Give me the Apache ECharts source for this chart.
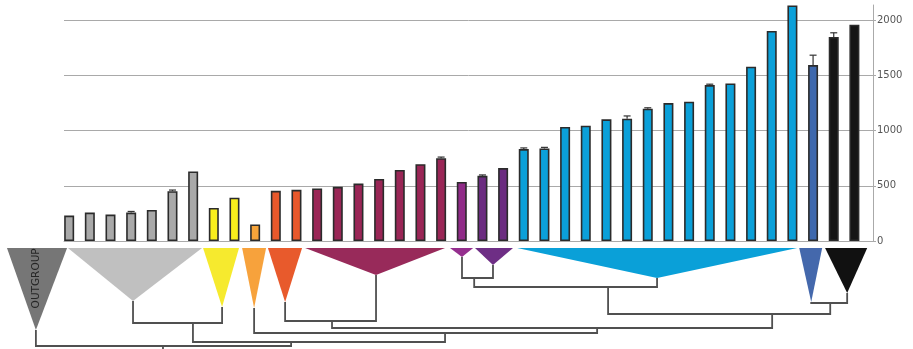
<!DOCTYPE html>
<html>
<head>
<meta charset="utf-8">
<script src="https://cdn.jsdelivr.net/npm/echarts@6/dist/echarts.min.js"></script>
<style>
  html, body { margin: 0; padding: 0; background: #ffffff; }
  #chart { width: 913px; height: 349px; }
</style>
</head>
<body>
<div id="chart"></div>
<script>
// Bar heights, one array per clade, in left-to-right order
const grayValues    = [231, 258, 240, 258, 282, 452, 630];
const yellowValues  = [300, 392];
const orangeValues  = [150];
const redValues     = [455, 464];
const maroonValues  = [476, 491, 521, 563, 644, 697, 751];
const magentaValues = [536];
const purpleValues  = [591, 661];
const blueValues    = [834, 839, 1034, 1045, 1103, 1109, 1200, 1251, 1263, 1414, 1429, 1580, 1905, 2136];
const steelValues   = [1595];
const blackValues   = [1850, 1962];

// Upper error for each bar (0 = no whisker)
const errorValues = [0, 0, 0, 10, 0, 10, 0, 0, 0, 0, 0, 0, 0, 0, 0, 0, 0, 0, 10,
                     0, 8, 0, 10, 10, 0, 0, 0, 25, 8, 0, 0, 8, 0, 0, 0, 0, 90, 38, 0];

// Right-hand axis ticks
const yTicks = [0, 500, 1000, 1500, 2000];

// Clades of the cladogram (outgroup first); bar groups follow the same order after it
const cladeKeys   = ['out', 'gray', 'yellow', 'orange', 'red', 'maroon', 'magenta', 'purple', 'blue', 'steel', 'black'];
const cladeLabels = ['OUTGROUP', '', '', '', '', '', '', '', '', '', ''];
const cladeLeft   = [-3.01, -0.06, 6.48, 8.37, 9.62, 11.42, 18.43, 19.64, 21.68, 35.33, 36.58];
const cladeRight  = [-0.10, 6.43, 8.22, 9.53, 11.27, 18.19, 19.55, 21.48, 35.23, 36.44, 38.62];
const cladeApexX  = [-1.61, 3.09, 7.40, 8.95, 10.45, 14.85, 19.01, 20.51, 28.45, 35.91, 37.65];
const cladeDepth  = [82, 53, 59, 60, 54, 27, 9, 17, 30, 54, 45];

// Internal nodes: attachment position, depth of the joining bar, and the two children
const nodeKeys     = ['gy', 'rm', 'pp', 'ppb', 'sb', 'ppbsb', 'n3', 'n4', 'n5', 'root'];
const nodeX        = [5.99, 12.72, 19.60, 26.08, 36.83, 34.02, 25.55, 18.19, 10.74, 4.54];
const nodeDepth    = [75, 73, 30, 39, 55, 66, 80, 85, 94, 98];
const nodeChildren = [['gray', 'yellow'], ['red', 'maroon'], ['magenta', 'purple'], ['pp', 'blue'],
                      ['steel', 'black'], ['ppb', 'sb'], ['rm', 'ppbsb'], ['orange', 'n3'],
                      ['gy', 'n4'], ['out', 'n5']];

// Colours
const barColors = {
  gray: '#a9a9a9', yellow: '#f9ee1c', orange: '#f6a43a', red: '#e8582b', maroon: '#9a2656',
  magenta: '#902b88', purple: '#6b2c80', blue: '#0ba0d9', steel: '#3e68ad', black: '#151515'
};
const triColors = {
  out: '#767676', gray: '#c0c0c0', yellow: '#f6ea2e', orange: '#f7a23c', red: '#e85a2c',
  maroon: '#982a5a', magenta: '#952f8e', purple: '#6e2e85', blue: '#0aa0d8', steel: '#4468ac', black: '#111111'
};

const groups = [
  ['gray', grayValues], ['yellow', yellowValues], ['orange', orangeValues], ['red', redValues],
  ['maroon', maroonValues], ['magenta', magentaValues], ['purple', purpleValues],
  ['blue', blueValues], ['steel', steelValues], ['black', blackValues]
];

const barData = [];
groups.forEach(([key, vals]) => {
  vals.forEach(v => {
    barData.push({ value: [barData.length, v], itemStyle: { color: barColors[key] } });
  });
});
const errData = barData.map((d, i) => [i, d.value[1], errorValues[i]]).filter(d => d[2] > 0);

const triData = cladeKeys.map((k, i) => [cladeLeft[i], cladeRight[i], cladeApexX[i], cladeDepth[i], i]);

function position(key) {
  let i = cladeKeys.indexOf(key);
  if (i >= 0) return [cladeApexX[i], cladeDepth[i]];
  i = nodeKeys.indexOf(key);
  return [nodeX[i], nodeDepth[i]];
}

const xMin = -0.25, xMax = 38.9;
const lineColor = '#505050';

const chart = echarts.init(document.getElementById('chart'), null, { renderer: 'canvas' });
chart.setOption({
  animation: false,
  backgroundColor: '#ffffff',
  grid: [
    { left: 64, right: 40, top: 5, height: 236 },
    { left: 64, right: 40, top: 248, height: 101 }
  ],
  xAxis: [
    { gridIndex: 0, type: 'value', min: xMin, max: xMax,
      axisLine: { show: true, onZero: false, lineStyle: { color: '#aaaaaa', width: 1 } },
      axisTick: { show: false }, axisLabel: { show: false }, splitLine: { show: false } },
    { gridIndex: 1, type: 'value', min: xMin, max: xMax, show: false }
  ],
  yAxis: [
    { gridIndex: 0, type: 'value', position: 'right', min: 0, max: 2140, interval: 500,
      axisLine: { show: true, onZero: false, lineStyle: { color: '#aaaaaa', width: 1 } },
      axisTick: { show: true, length: 3, lineStyle: { color: '#aaaaaa' } },
      axisLabel: { color: '#555555', fontSize: 10, fontFamily: 'DejaVu Sans', margin: 4,
                   showMaxLabel: false,
                   formatter: v => (yTicks.indexOf(v) >= 0 ? String(v) : '') },
      splitLine: { show: true, showMaxLine: false, lineStyle: { color: '#a9a9a9', width: 1 } } },
    { gridIndex: 1, type: 'value', min: 0, max: 101, inverse: true, show: false }
  ],
  series: [
    {
      type: 'bar', xAxisIndex: 0, yAxisIndex: 0, barWidth: 10,
      itemStyle: { borderColor: '#2b2b2b', borderWidth: 1.6 },
      data: barData
    },
    {
      type: 'custom', xAxisIndex: 0, yAxisIndex: 0, clip: false,
      data: errData,
      renderItem: (params, api) => {
        const x = api.value(0), v = api.value(1), e = api.value(2);
        const p0 = api.coord([x, v]);
        const p1 = api.coord([x, v + e]);
        const style = { stroke: '#333333', lineWidth: 1.2 };
        return {
          type: 'group',
          children: [
            { type: 'line', shape: { x1: p0[0], y1: p0[1], x2: p1[0], y2: p1[1] }, style },
            { type: 'line', shape: { x1: p1[0] - 3.5, y1: p1[1], x2: p1[0] + 3.5, y2: p1[1] }, style }
          ]
        };
      }
    },
    {
      type: 'custom', xAxisIndex: 1, yAxisIndex: 1, clip: false,
      data: triData,
      renderItem: (params, api) => {
        const i = api.value(4);
        const a = api.coord([api.value(0), 0]);
        const b = api.coord([api.value(1), 0]);
        const c = api.coord([api.value(2), api.value(3)]);
        const children = [{
          type: 'polygon',
          shape: { points: [a, b, c] },
          style: { fill: triColors[cladeKeys[i]] }
        }];
        if (cladeLabels[i]) {
          const t = api.coord([api.value(2), api.value(3) * 0.37]);
          children.push({
            type: 'text', x: t[0], y: t[1], rotation: Math.PI / 2,
            style: { text: cladeLabels[i], fill: '#262626', fontSize: 10.5, fontFamily: 'DejaVu Sans',
                     align: 'center', verticalAlign: 'middle' }
          });
        }
        return { type: 'group', children };
      }
    },
    {
      type: 'custom', xAxisIndex: 1, yAxisIndex: 1, clip: false,
      data: nodeKeys.map((k, i) => [nodeX[i], nodeDepth[i], i]),
      renderItem: (params, api) => {
        const i = api.value(2);
        const d = nodeDepth[i];
        const c1 = position(nodeChildren[i][0]);
        const c2 = position(nodeChildren[i][1]);
        const pts = [
          api.coord(c1), api.coord([c1[0], d]), api.coord([c2[0], d]), api.coord(c2)
        ];
        const style = { stroke: lineColor, lineWidth: 1.8, fill: null };
        const children = [{ type: 'polyline', shape: { points: pts }, style }];
        if (nodeKeys[i] === 'root') {
          children.push({ type: 'polyline',
            shape: { points: [api.coord([nodeX[i], d]), api.coord([nodeX[i], 104])] }, style });
        }
        return { type: 'group', children };
      }
    }
  ]
});
</script>
</body>
</html>
